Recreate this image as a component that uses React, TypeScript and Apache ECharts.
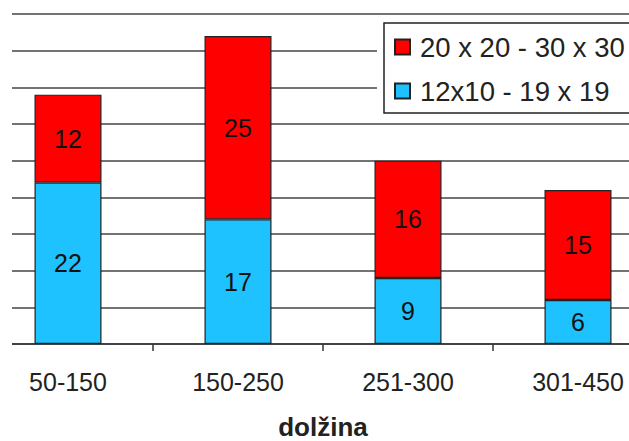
import React, { useEffect, useRef } from "react";
import * as echarts from "echarts";

const categories = ["50-150", "150-250", "251-300", "301-450"];
const smallSeriesName = "12x10 - 19 x 19";
const largeSeriesName = "20 x 20 - 30 x 30";
const smallValues = [22, 17, 9, 6];
const largeValues = [12, 25, 16, 15];
const axisName = "dolžina";

const FONT = "'Liberation Sans', Arial, sans-serif";

export default function App() {
  const ref = useRef<HTMLDivElement>(null);
  useEffect(() => {
    if (!ref.current) return;
    const chart = echarts.init(ref.current, undefined, { renderer: "svg" });
    const labelCfg = {
      show: true,
      position: "inside",
      color: "#111",
      fontSize: 25,
      fontFamily: FONT,
    };
    chart.setOption({
      animation: false,
      backgroundColor: "#fff",
      grid: {
        left: -17,
        top: 14,
        width: 680,
        height: 330,
        containLabel: false,
        outerBoundsMode: "none",
      },
      legend: {
        data: [largeSeriesName, smallSeriesName],
        orient: "vertical",
        left: 384,
        top: 23,
        padding: [10, 0, 10, 10],
        itemGap: 16,
        itemWidth: 15,
        itemHeight: 15,
        icon: "rect",
        borderWidth: 0,
        textStyle: {
          fontSize: 27.5,
          lineHeight: 27,
          fontFamily: FONT,
          color: "#222",
          padding: [0, 0, 0, 5],
        },
      },
      xAxis: {
        type: "category",
        data: categories,
        axisLine: { show: true, lineStyle: { color: "#333", width: 1.5 } },
        axisTick: { show: true, length: 7, lineStyle: { color: "#333", width: 1.5 } },
        axisLabel: { fontSize: 25, fontFamily: FONT, color: "#222", margin: 25 },
        name: axisName,
        nameLocation: "middle",
        nameGap: 71,
        nameTextStyle: {
          fontSize: 26,
          lineHeight: 24,
          fontWeight: "bold",
          fontFamily: FONT,
          color: "#222",
        },
      },
      yAxis: {
        type: "value",
        min: 0,
        max: 45,
        interval: 5,
        axisLabel: { show: false },
        axisLine: { show: false },
        axisTick: { show: false },
        splitLine: { show: true, lineStyle: { color: "#444", width: 1.6 } },
      },
      series: [
        {
          name: smallSeriesName,
          type: "bar",
          stack: "total",
          barWidth: 67,
          data: smallValues,
          itemStyle: { color: "#1DC2FE", borderColor: "#222", borderWidth: 1.2 },
          label: labelCfg,
        },
        {
          name: largeSeriesName,
          type: "bar",
          stack: "total",
          barWidth: 67,
          data: largeValues,
          itemStyle: { color: "#FF0000", borderColor: "#222", borderWidth: 1.2 },
          label: labelCfg,
        },
      ],
      graphic: [
        {
          type: "rect",
          z: 1,
          shape: { x: 0, y: 0, width: 12, height: 360 },
          style: { fill: "#fff" },
        },
        {
          type: "rect",
          z: 1,
          shape: { x: 377, y: 16, width: 260, height: 105 },
          style: { fill: "#fff" },
        },
        {
          type: "rect",
          z: 2,
          shape: { x: 384, y: 23, width: 300, height: 90 },
          style: { fill: "#fff", stroke: "#222", lineWidth: 1.5 },
        },
      ],
    });
    return () => chart.dispose();
  }, []);
  return (
    <div
      ref={ref}
      style={{ position: "fixed", left: 0, top: 0, width: 629, height: 441 }}
    />
  );
}
